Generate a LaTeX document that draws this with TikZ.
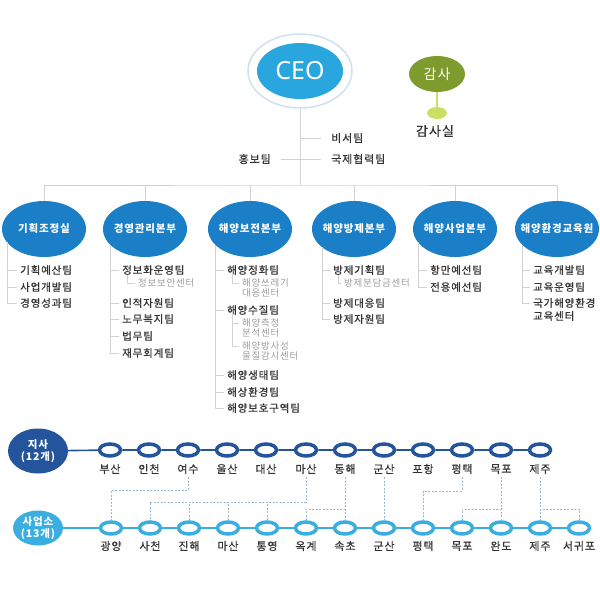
\documentclass[tikz,border=0pt]{standalone}
\usepackage{fontspec}
\setmainfont{Noto Sans CJK KR}
\newfontfamily\krfont{Noto Sans CJK KR}[LetterSpace=8]
\newfontfamily\krheavy{Noto Sans CJK KR}[LetterSpace=8,FakeBold=0.6]
\newfontfamily\ceofont{Noto Sans}
\usetikzlibrary{shapes.geometric}
\definecolor{ceoblue}{HTML}{2AA6DF}
\definecolor{halogray}{HTML}{CFE1EC}
\definecolor{deptblue}{HTML}{1B7FC8}
\definecolor{auditgreen}{HTML}{7E9B2E}
\definecolor{auditlime}{HTML}{CCDF62}
\definecolor{branchblue}{HTML}{24549B}
\definecolor{officeblue}{HTML}{3AAEE0}
\definecolor{linegray}{HTML}{D2D2D2}
\definecolor{teamgray}{HTML}{333333}
\definecolor{subgray}{HTML}{9C9C9C}
\definecolor{dashblue}{HTML}{98B8D2}
\begin{document}
\begin{tikzpicture}[x=1pt,y=-1pt,
 line/.style={draw=linegray,line width=0.8pt},
 dept/.style={ellipse,fill=deptblue,minimum width=84pt,minimum height=56pt,inner sep=0pt},
 deptname/.style={text=white,font=\krfont\fontsize{10.5}{12}\selectfont\bfseries},
 team/.style={anchor=west,inner sep=0pt,text=teamgray,font=\krheavy\fontsize{10.5}{12}\selectfont},
 unit/.style={anchor=north west,inner sep=0pt,align=left,text=subgray,font=\krfont\fontsize{9.5}{10}\selectfont},
 branchring/.style={ellipse,draw=branchblue,fill=white,line width=3.5pt,minimum width=21pt,minimum height=12pt,inner sep=0pt},
 officering/.style={branchring,draw=officeblue},
 place/.style={inner sep=0pt,text=teamgray,font=\krheavy\fontsize{11}{12}\selectfont},
 link/.style={draw=dashblue,line width=0.8pt,dash pattern=on 2pt off 1.5pt}]
\useasboundingbox (0,0) rectangle (600,600);
% top
\node[ellipse,draw=halogray,line width=1.5pt,minimum width=104pt,minimum height=74pt] (halo) at (300,71) {};
\node[ellipse,fill=ceoblue,minimum width=86pt,minimum height=56pt,inner sep=0pt,text=white,font=\ceofont\fontsize{25}{26}\selectfont] (ceo) at (300,71) {CEO};
\node[ellipse,fill=auditgreen,minimum width=56pt,minimum height=36pt,inner sep=0pt,text=white,font=\krfont\fontsize{14}{15}\selectfont] (audit) at (437,74) {감사};
\node[ellipse,fill=auditlime,minimum width=20pt,minimum height=12pt,inner sep=0pt] (auditdot) at (437,113) {};
\draw[auditlime,line width=1.5pt] (audit) -- (auditdot);
\node[place,font=\krheavy\fontsize{13}{14}\selectfont] (auditroom) at (435,131) {감사실};
\coordinate (hub) at (300,185);
\draw[line] (halo) -- (hub);
\node[team,font=\krheavy\fontsize{11}{12}\selectfont] (secretary) at (331,138) {비서팀};
\node[team,font=\krheavy\fontsize{11}{12}\selectfont] (intl) at (331,159) {국제협력팀};
\node[team,anchor=east,font=\krheavy\fontsize{11}{12}\selectfont] (pr) at (271,159) {홍보팀};
\draw[line] (secretary.west -| hub) -- ([xshift=-10pt]secretary.west);
\draw[line] (intl.west -| hub) -- ([xshift=-10pt]intl.west);
\draw[line] (pr.east -| hub) -- ([xshift=10pt]pr.east);
% departments
\node[dept,label={[deptname]center:기획조정실}] (d1) at (44,229) {};
\node[dept,label={[deptname]center:경영관리본부}] (d2) at (145,229) {};
\node[dept,label={[deptname]center:해양보전본부}] (d3) at (250,229) {};
\node[dept,label={[deptname]center:해양방제본부}] (d4) at (354,229) {};
\node[dept,label={[deptname]center:해양사업본부}] (d5) at (455,229) {};
\node[dept,label={[deptname]center:해양환경교육원}] (d6) at (557,229) {};
\draw[line] (d1.north) |- (hub) -| (d6.north);
\draw[line] (d2.north) -- (d2.north |- hub);
\draw[line] (d3.north) -- (d3.north |- hub);
\draw[line] (d4.north) -- (d4.north |- hub);
\draw[line] (d5.north) -- (d5.north |- hub);
% 기획조정실
\node[team] (a1) at (20,270) {기획예산팀};
\node[team] (a2) at (20,287) {사업개발팀};
\node[team] (a3) at (20,303) {경영성과팀};
\draw[line] (d1.200) |- ([xshift=-3pt]a3.west);
\draw[line] (d1.200 |- a1.west) -- ([xshift=-3pt]a1.west);
\draw[line] (d1.200 |- a2.west) -- ([xshift=-3pt]a2.west);
% 경영관리본부
\node[team] (b1) at (122,270) {정보화운영팀};
\node[unit] (b1s) at (138,278) {정보보안센터};
\node[team] (b2) at (122,303) {인적자원팀};
\node[team] (b3) at (122,319) {노무복지팀};
\node[team] (b4) at (122,336) {법무팀};
\node[team] (b5) at (122,353) {재무회계팀};
\draw[line] (d2.205) |- ([xshift=-3pt]b5.west);
\draw[line] (d2.205 |- b1.west) -- ([xshift=-3pt]b1.west);
\draw[line] (d2.205 |- b2.west) -- ([xshift=-3pt]b2.west);
\draw[line] (d2.205 |- b3.west) -- ([xshift=-3pt]b3.west);
\draw[line] (d2.205 |- b4.west) -- ([xshift=-3pt]b4.west);
\draw[line] ([xshift=5pt]b1.south west) |- ([xshift=-3pt,yshift=-5pt]b1s.north west);
% 해양보전본부
\node[team] (c1) at (227,270) {해양정화팀};
\node[unit] (c1s) at (242,278) {해양쓰레기\\대응센터};
\node[team] (c2) at (227,310) {해양수질팀};
\node[unit] (c2s) at (242,318) {해양측정\\분석센터};
\node[unit] (c2t) at (242,341) {해양방사성\\물질감시센터};
\node[team] (c3) at (227,375) {해양생태팀};
\node[team] (c4) at (227,392) {해상환경팀};
\node[team] (c5) at (227,408) {해양보호구역팀};
\draw[line] (d3.205) |- ([xshift=-3pt]c5.west);
\draw[line] (d3.205 |- c1.west) -- ([xshift=-3pt]c1.west);
\draw[line] (d3.205 |- c2.west) -- ([xshift=-3pt]c2.west);
\draw[line] (d3.205 |- c3.west) -- ([xshift=-3pt]c3.west);
\draw[line] (d3.205 |- c4.west) -- ([xshift=-3pt]c4.west);
\draw[line] ([xshift=5pt]c1.south west) |- ([xshift=-3pt,yshift=-5pt]c1s.north west);
\draw[line] ([xshift=5pt]c2.south west) |- ([xshift=-3pt,yshift=-5pt]c2t.north west);
\draw[line] ([xshift=-3pt,yshift=-5pt]c2s.north west) -- ++(-7,0);
% 해양방제본부
\node[team] (e1) at (333,270) {방제기획팀};
\node[unit] (e1s) at (344,278) {방제분담금센터};
\node[team] (e2) at (333,303) {방제대응팀};
\node[team] (e3) at (333,319) {방제자원팀};
\draw[line] (d4.210) |- ([xshift=-3pt]e3.west);
\draw[line] (d4.210 |- e1.west) -- ([xshift=-3pt]e1.west);
\draw[line] (d4.210 |- e2.west) -- ([xshift=-3pt]e2.west);
\draw[line] ([xshift=5pt]e1.south west) |- ([xshift=-3pt,yshift=-5pt]e1s.north west);
% 해양사업본부
\node[team] (f1) at (430,270) {항만예선팀};
\node[team] (f2) at (430,287) {전용예선팀};
\draw[line] (d5.200) |- ([xshift=-3pt]f2.west);
\draw[line] (d5.200 |- f1.west) -- ([xshift=-3pt]f1.west);
% 해양환경교육원
\node[team] (g1) at (533,270) {교육개발팀};
\node[team] (g2) at (533,287) {교육운영팀};
\node[team,anchor=north west,align=left,font=\krheavy\fontsize{10.5}{13}\selectfont] (g3) at (533,298) {국가해양환경\\교육센터};
\draw[line] (d6.205) |- ([xshift=-3pt,yshift=-5pt]g3.north west);
\draw[line] (d6.205 |- g1.west) -- ([xshift=-3pt]g1.west);
\draw[line] (d6.205 |- g2.west) -- ([xshift=-3pt]g2.west);
% 지사
\node[ellipse,fill=branchblue,minimum width=60pt,minimum height=45pt,inner sep=0pt,align=center,text=white,font=\krfont\fontsize{10.5}{12}\selectfont\bfseries] (branch) at (38,451) {지사\\(12개)};
\node[branchring] (t1) at (110,450) {};
\node[branchring] (t2) at (149,450) {};
\node[branchring] (t3) at (188,450) {};
\node[branchring] (t4) at (227,450) {};
\node[branchring] (t5) at (266,450) {};
\node[branchring] (t6) at (306,450) {};
\node[branchring] (t7) at (345,450) {};
\node[branchring] (t8) at (384,450) {};
\node[branchring] (t9) at (423,450) {};
\node[branchring] (t10) at (462,450) {};
\node[branchring] (t11) at (501,450) {};
\node[branchring] (t12) at (540,450) {};
\draw[branchblue,line width=1.6pt] (branch) -- (t1) -- (t2) -- (t3) -- (t4) -- (t5) -- (t6)
 -- (t7) -- (t8) -- (t9) -- (t10) -- (t11) -- (t12);
\node[place] (t1l) at (110,469) {부산};
\node[place] (t2l) at (149,469) {인천};
\node[place] (t3l) at (188,469) {여수};
\node[place] (t4l) at (227,469) {울산};
\node[place] (t5l) at (266,469) {대산};
\node[place] (t6l) at (306,469) {마산};
\node[place] (t7l) at (345,469) {동해};
\node[place] (t8l) at (384,469) {군산};
\node[place] (t9l) at (423,469) {포항};
\node[place] (t10l) at (462,469) {평택};
\node[place] (t11l) at (501,469) {목포};
\node[place] (t12l) at (540,469) {제주};
% 사업소
\node[ellipse,fill=officeblue,minimum width=50pt,minimum height=35pt,inner sep=0pt,align=center,text=white,font=\krfont\fontsize{10.5}{11.5}\selectfont\bfseries] (office) at (38,528) {사업소\\(13개)};
\node[officering] (b1) at (111,528) {};
\node[officering] (b2) at (150,528) {};
\node[officering] (b3) at (189,528) {};
\node[officering] (b4) at (228,528) {};
\node[officering] (b5) at (267,528) {};
\node[officering] (b6) at (306,528) {};
\node[officering] (b7) at (345,528) {};
\node[officering] (b8) at (384,528) {};
\node[officering] (b9) at (423,528) {};
\node[officering] (b10) at (462,528) {};
\node[officering] (b11) at (501,528) {};
\node[officering] (b12) at (540,528) {};
\node[officering] (b13) at (579,528) {};
\draw[officeblue,line width=1.6pt] (office) -- (b1) -- (b2) -- (b3) -- (b4) -- (b5) -- (b6)
 -- (b7) -- (b8) -- (b9) -- (b10) -- (b11) -- (b12) -- (b13);
\node[place] (b1l) at (111,546) {광양};
\node[place] (b2l) at (150,546) {사천};
\node[place] (b3l) at (189,546) {진해};
\node[place] (b4l) at (228,546) {마산};
\node[place] (b5l) at (267,546) {통영};
\node[place] (b6l) at (306,546) {옥계};
\node[place] (b7l) at (345,546) {속초};
\node[place] (b8l) at (384,546) {군산};
\node[place] (b9l) at (423,546) {평택};
\node[place] (b10l) at (462,546) {목포};
\node[place] (b11l) at (501,546) {완도};
\node[place] (b12l) at (540,546) {제주};
\node[place] (b13l) at (579,546) {서귀포};
% dashed links
\draw[link] ([yshift=-3pt]t3l.south) -- ++(0,13) -| (b1.north);
\draw[link] ([yshift=-3pt]t6l.south) |- (b2.north |- 0,502) -- (b2.north);
\draw[link] (b3.north) -- (b3.north |- 0,502);
\draw[link] (b4.north) -- (b4.north |- 0,502);
\draw[link] (b5.north) -- (b5.north |- 0,502);
\draw[link] ([yshift=-3pt]t7l.south) -- (b7.north);
\draw[link] (b6.north) |- (b7.north |- 0,509);
\draw[link] ([yshift=-3pt]t8l.south) -- (b8.north);
\draw[link] ([yshift=-3pt]t10l.south) |- (b9.north |- 0,491) -- (b9.north);
\draw[link] ([yshift=-3pt]t11l.south) -- (b11.north);
\draw[link] (b10.north) |- (b11.north |- 0,509);
\draw[link] ([yshift=-3pt]t12l.south) -- (b12.north);
\draw[link] (b13.north) |- (b12.north |- 0,509);
\end{tikzpicture}
\end{document}
